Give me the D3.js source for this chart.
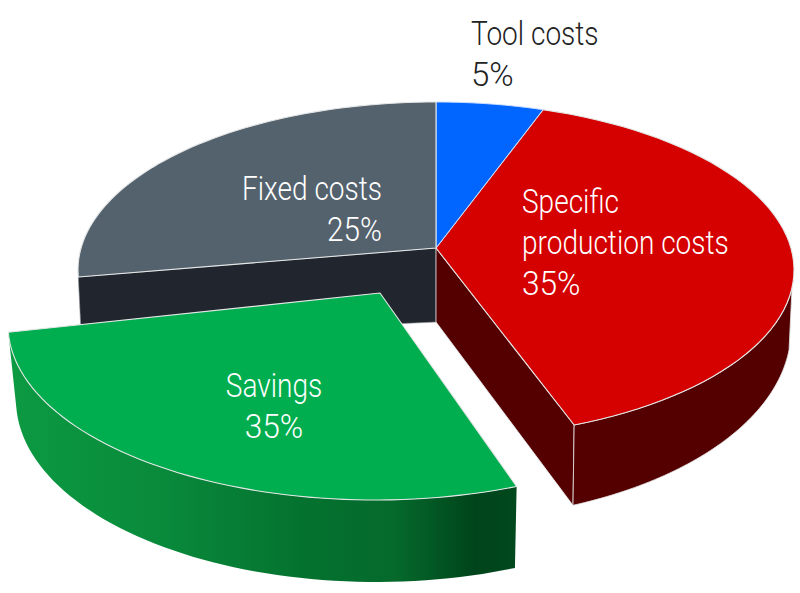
<!DOCTYPE html>
<html><head><meta charset="utf-8">
<script src="https://cdn.jsdelivr.net/npm/d3@7"></script>
<style>html,body{margin:0;padding:0;background:#fff}svg{display:block}
text{font-family:Roboto,"Liberation Sans",sans-serif;font-weight:300;font-size:33px}</style>
</head><body><svg id="c" width="800" height="593"></svg>
<script>
const categories = ["Tool costs","Specific production costs","Savings","Fixed costs"];
const values = [5,35,35,25];

(function(){
const svg=d3.select("#c");
const D=Math.PI/180;
// pie angle -> visual angle on the tilted ellipse
const arcs=d3.pie().sort(null).value(d=>d).startAngle(0).endAngle(2*Math.PI)(values);
const warp=d3.scaleLinear()
  .domain([0,arcs[1].startAngle,arcs[2].startAngle,arcs[3].startAngle,2*Math.PI])
  .range([0,17.4,157.3,267.6,360].map(d=>d*D));
const plane=(cx,cy,rx,ry,ax,ay)=>({cx,cy,rx,ry,ax,ay,
  p:t=>[cx+rx*Math.sin(t),cy-ry*Math.cos(t)]});
const upper=plane(436,270,358,168,436,248);
const lower=plane(436,330,355,190,436,322);
const gTop=plane(375,325,367,175,380,293);
const gBot=plane(376,400,360,182,380,365);
const line=d3.line();
const samples=(pl,a,b)=>d3.range(0,61).map(i=>pl.p(a+(b-a)*i/60));
const poly=pts=>line(pts)+"Z";
const edge="#e4e6e6";

// gradient for exploded slice rim
const defs=svg.append("defs");
const grad=defs.append("linearGradient").attr("id","rim").attr("gradientUnits","userSpaceOnUse")
  .attr("x1",8).attr("x2",516).attr("y1",0).attr("y2",0);
[[0,"#0c9a42"],[.3,"#098a3b"],[.58,"#04722f"],[.76,"#056a2c"],[.92,"#00441b"],[1,"#00481d"]]
  .forEach(s=>grad.append("stop").attr("offset",s[0]).attr("stop-color",s[1]));

const a=i=>warp(arcs[i].startAngle), b=i=>warp(arcs[i].endAngle);
const draw=(d,fill,stroke,w)=>svg.append("path").attr("d",d).attr("fill",fill)
  .attr("stroke",stroke||"none").attr("stroke-width",w||0).attr("stroke-linejoin","round");

// Fixed costs cut face
draw(poly([[upper.ax,upper.ay],upper.p(a(3)),lower.p(a(3)),[lower.ax,lower.ay]]),"#20252e","#8a8f96",.6);
// Specific production cut face
draw(poly([[upper.ax,upper.ay],upper.p(b(1)),lower.p(b(1)),[lower.ax,lower.ay]]),"#540000",edge,.8);
// Specific production outer rim
draw(poly([...samples(upper,96*D,b(1)),...samples(lower,b(1),96*D)]),"#540000",edge,.8);
// Top faces
const face=(pl,i)=>poly([[pl.ax,pl.ay],...samples(pl,a(i),b(i))]);
draw(face(upper,1),"#d50000",edge,1.1);
draw(face(upper,0),"#0066ff","#cfe0ff",1);
draw(face(upper,3),"#54626e",edge,1.1);
// Savings rim and top
draw(poly([...samples(gTop,a(2),b(2)),...samples(gBot,b(2),a(2))]),"url(#rim)");
draw(face(gTop,2),"#00ae4f",edge,1.1);

// Labels: condensed by a horizontal scale, since no condensed face is installed
const label=(x,y,anchor,fill,lines,pctScale)=>lines.forEach((l,i)=>{
  const sx=i===lines.length-1?pctScale:.85;
  svg.append("text").attr("transform",`translate(${x},${y+i*41}) scale(${sx},1)`)
    .attr("text-anchor",anchor).attr("fill",fill).text(l);
});
const pct=values.map(v=>v+"%");
label(471,45,"start","#222222",[categories[0],pct[0]],1);
label(522,213,"start","#ffffff",["Specific","production costs",pct[1]],.96);
label(274,397,"middle","#ffffff",[categories[2],pct[2]],.96);
label(382,200,"end","#ffffff",[categories[3],pct[3]],.9);
})();
</script></body></html>
